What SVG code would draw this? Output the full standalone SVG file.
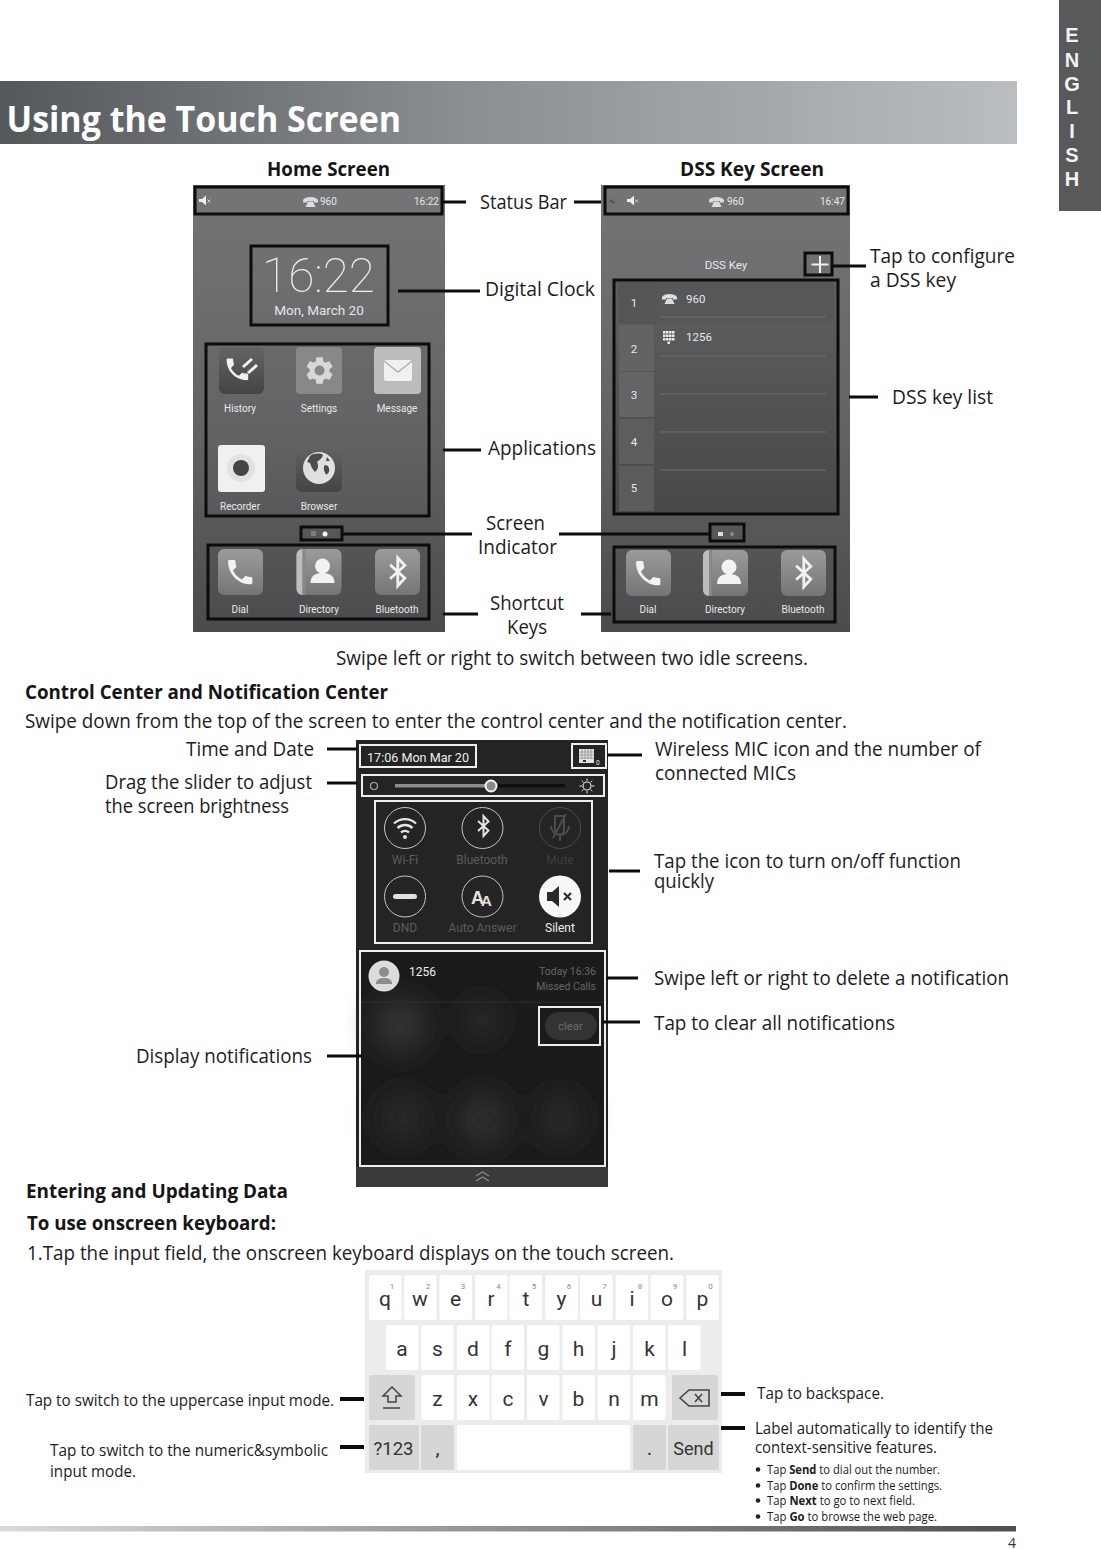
<svg xmlns="http://www.w3.org/2000/svg" xmlns:xlink="http://www.w3.org/1999/xlink" width="1101" height="1549" viewBox="0 0 1101 1549">
<style>
text{font-family:"Open Sans","Noto Sans","Liberation Sans",sans-serif;fill:#1c1c1c}
.l{font-size:19.5px}
.b{font-size:19.5px;font-weight:700;fill:#151515}
.s{font-size:16.5px}
.m{font-size:12px}
.u{font-family:Roboto,"Liberation Sans",sans-serif;fill:#e8e8e8;font-size:10px}
.c{text-anchor:middle}
.tab{font-family:"Liberation Sans",Arial,sans-serif;font-weight:700;font-size:20px;fill:#f2f2f2;text-anchor:middle}
.box{fill:none;stroke:#0c0c0c;stroke-width:3}
.wb{fill:none;stroke:#eeeeee;stroke-width:2}
.con{stroke:#0c0c0c;stroke-width:3;fill:none}
.k{fill:#fff}
.d{fill:#d6d6d6}
.kt{font-family:Roboto,"Liberation Sans",sans-serif;font-size:21px;fill:#333;text-anchor:middle}
.kn{font-family:Roboto,"Liberation Sans",sans-serif;font-size:8px;fill:#888;text-anchor:middle}
.q{fill:none;stroke:#c4c4c4;stroke-width:1}
.qt{font-family:Roboto,"Liberation Sans",sans-serif;font-size:12px;fill:#5c5c5c;text-anchor:middle}
</style>
<defs>
<linearGradient id="ban"><stop offset="0" stop-color="#55585a"/><stop offset=".45" stop-color="#8b8e90"/><stop offset="1" stop-color="#babec0"/></linearGradient>
<linearGradient id="foot"><stop offset="0" stop-color="#d8dadb"/><stop offset=".3" stop-color="#a9acae"/><stop offset="1" stop-color="#4e4f52"/></linearGradient>
<linearGradient id="ph" x2="0" y2="1"><stop offset="0" stop-color="#747576"/><stop offset=".55" stop-color="#626365"/><stop offset="1" stop-color="#4a4b4d"/></linearGradient>
<linearGradient id="ic" x2="0" y2="1"><stop offset="0" stop-color="#9a9b9c"/><stop offset="1" stop-color="#747576"/></linearGradient>
<linearGradient id="icd" x2="0" y2="1"><stop offset="0" stop-color="#636465"/><stop offset="1" stop-color="#434445"/></linearGradient>
<linearGradient id="lst" x2="0" y2="1"><stop offset="0" stop-color="#5e5f60"/><stop offset="1" stop-color="#47484a"/></linearGradient>
<filter id="bl" x="-100%" y="-100%" width="300%" height="300%"><feGaussianBlur stdDeviation="14"/></filter>
<path id="hs" d="M6.62 10.79c1.44 2.83 3.76 5.14 6.59 6.59l2.2-2.2c.27-.27.67-.36 1.02-.24 1.12.37 2.33.57 3.57.57.55 0 1 .45 1 1V20c0 .55-.45 1-1 1-9.39 0-17-7.61-17-17 0-.55.45-1 1-1h3.5c.55 0 1 .45 1 1 0 1.25.2 2.45.57 3.57.11.35.03.74-.25 1.02l-2.2 2.2z"/>
<path id="gear" fill-rule="evenodd" d="M19.14 12.94c.04-.3.06-.61.06-.94 0-.32-.02-.64-.07-.94l2.03-1.58c.18-.14.23-.41.12-.61l-1.92-3.32c-.12-.22-.37-.29-.59-.22l-2.39.96c-.5-.38-1.03-.7-1.62-.94l-.36-2.54c-.04-.24-.24-.41-.48-.41h-3.84c-.24 0-.43.17-.47.41l-.36 2.54c-.59.24-1.13.57-1.62.94l-2.39-.96c-.22-.08-.47 0-.59.22L2.74 8.87c-.12.21-.08.47.12.61l2.03 1.58c-.05.3-.09.63-.09.94s.02.64.07.94l-2.03 1.58c-.18.14-.23.41-.12.61l1.92 3.32c.12.22.37.29.59.22l2.39-.96c.5.38 1.03.7 1.62.94l.36 2.54c.05.24.24.41.48.41h3.84c.24 0 .44-.17.47-.41l.36-2.54c.59-.24 1.13-.56 1.62-.94l2.39.96c.22.08.47 0 .59-.22l1.92-3.32c.12-.22.07-.47-.12-.61l-2.01-1.58zM12 15.6c-1.98 0-3.6-1.62-3.6-3.6s1.62-3.6 3.6-3.6 3.6 1.62 3.6 3.6-1.62 3.6-3.6 3.6z"/>
<path id="bt" fill="none" stroke-width="2" d="M6.5 7 17 16.5 12 22V2l5 5.5L6.5 17"/>
<g id="dial"><rect width="45" height="46" rx="6" fill="url(#ic)"/><use xlink:href="#hs" transform="translate(6 7) scale(1.35)" fill="#f2f2f2"/></g>
<g id="dir"><rect width="45" height="46" rx="6" fill="url(#ic)"/><path d="M6 0V46A6 6 0 0 1 0 40V6A6 6 0 0 1 6 0Z" fill="#bdbdbd"/><rect x="6" width="3" height="46" fill="#888"/><circle cx="26" cy="17" r="7.5" fill="#f2f2f2"/><path d="M14 34c0-8 6-10 12-10s12 2 12 10z" fill="#f2f2f2"/></g>
<g id="blu"><rect width="45" height="46" rx="6" fill="url(#ic)"/><use xlink:href="#bt" transform="translate(6 6) scale(1.4)" stroke="#f2f2f2"/></g>
<g id="tel"><path d="M0 4C2 0 13 0 15 4V6.500H11V5H4V6.500H0Z" fill="#dcdcdc"/><path d="M2.500 11 5 5.500H10L12.500 11Z" fill="#dcdcdc"/></g>
</defs>

<g id="language-tab"><rect x="1059" width="42" height="211" fill="#58595b"/>
<text class="tab" x="1072" y="42">E</text><text class="tab" x="1072" y="66.500">N</text><text class="tab" x="1072" y="90.500">G</text><text class="tab" x="1072" y="114">L</text><text class="tab" x="1072" y="138">I</text><text class="tab" x="1072" y="162">S</text><text class="tab" x="1072" y="186">H</text></g>

<g id="title-banner"><rect y="81" width="1017" height="63" fill="url(#ban)"/>
<text x="6.500" y="132" style="font-size:35px;font-weight:700;fill:#fff" textLength="394.500" lengthAdjust="spacingAndGlyphs">Using the Touch Screen</text></g>

<text class="b" x="267" y="175.500" textLength="123" lengthAdjust="spacingAndGlyphs">Home Screen</text>
<text class="b" x="680" y="175.500" textLength="144" lengthAdjust="spacingAndGlyphs">DSS Key Screen</text>

<g id="home-screen">
<rect x="193" y="185" width="252" height="447" fill="url(#ph)"/>
<g id="home-status"><rect class="box" x="195" y="187" width="247" height="27"/>
<path d="M199 199h3l4-3.500v10l-4-3.500h-3z" fill="#eee"/><path d="M207.500 199.500l3 3m0-3l-3 3" stroke="#ddd" stroke-width=".8"/>
<use xlink:href="#tel" transform="translate(303 196)"/><text class="u" x="320" y="205">960</text><text class="u" x="414" y="205">16:22</text></g>
<g id="home-clock"><rect class="box" x="251" y="246" width="137" height="79"/>
<text x="262" y="292" style="font-family:Roboto,sans-serif;font-weight:100;font-size:49px;fill:#eee" textLength="113" lengthAdjust="spacingAndGlyphs">16:22</text>
<text class="c" x="319" y="315" style="font-family:Roboto,sans-serif;font-size:13.500px;fill:#e6e6e6">Mon, March 20</text></g>
<g id="home-apps"><rect class="box" x="206" y="344" width="223" height="172"/>
<rect x="219" y="347" width="45" height="47" rx="6" fill="url(#icd)"/><use xlink:href="#hs" transform="translate(223 355) scale(1.2)" fill="#f2f2f2"/><path d="M243 367l9-8M248 373l9-8" stroke="#f2f2f2" stroke-width="3" fill="none"/>
<rect x="296" y="347" width="46" height="47" rx="4" fill="#878889"/><use xlink:href="#gear" transform="translate(303 354) scale(1.38)" fill="#d8d8d8"/>
<rect x="374" y="347" width="47" height="47" rx="4" fill="#bcbcbc"/><rect x="384" y="360" width="28" height="21" rx="2" fill="#f0f0f0"/><path d="M384 361l14 11 14-11" fill="none" stroke="#b0b0b0" stroke-width="1.500"/>
<text class="u c" x="240" y="412">History</text><text class="u c" x="319" y="412">Settings</text><text class="u c" x="397" y="412">Message</text>
<rect x="218" y="445" width="47" height="47" rx="3" fill="#f0f0f0"/><circle cx="241" cy="468" r="14" fill="#e2e2e2"/><circle cx="241" cy="468" r="8" fill="#444"/>
<rect x="296" y="445" width="46" height="47" rx="6" fill="url(#icd)"/><circle cx="319" cy="468" r="16" fill="#e0e0e0"/><path d="M310 456c4-3 10-3 13-1-1 4-4 5-6 7 2 3 1 8-2 10-3-3-4-6-5-9l-3-1zM325 465c3 0 5 3 4 7-2 3-3 3-4 1-1-3-2-6 0-8zM327 457l3 4-4 0z" fill="#4b4c4d"/>
<text class="u c" x="240" y="510">Recorder</text><text class="u c" x="319" y="510">Browser</text></g>
<g id="home-indicator"><rect class="box" x="301" y="527" width="41" height="13"/><rect x="311" y="531" width="5" height="5" fill="#7c7c7c"/><circle cx="325" cy="534" r="2.500" fill="#f4f4f4"/></g>
<g id="home-shortcuts"><rect class="box" x="208" y="545" width="221" height="74"/>
<use xlink:href="#dial" transform="translate(218 549)"/><use xlink:href="#dir" transform="translate(296.500 549)"/><use xlink:href="#blu" transform="translate(375 549)"/>
<text class="u c" x="240" y="613">Dial</text><text class="u c" x="319" y="613">Directory</text><text class="u c" x="397" y="613">Bluetooth</text></g>
</g>

<g id="dss-screen">
<rect x="601" y="185" width="249" height="447" fill="url(#ph)"/>
<g id="dss-status"><rect class="box" x="605" y="187" width="243" height="27"/>
<path d="M610 199l5 3-1 2-5-3z" fill="#555"/><path d="M627 199h3l4-3.500v10l-4-3.500h-3z" fill="#eee"/><path d="M635 199.500l3 3m0-3l-3 3" stroke="#ddd" stroke-width=".8"/>
<use xlink:href="#tel" transform="translate(709 196)"/><text class="u" x="727" y="205">960</text><text class="u" x="820" y="205">16:47</text></g>
<text class="u c" x="726" y="269" style="font-size:11.500px">DSS Key</text>
<g id="dss-add"><rect class="box" x="805" y="253" width="27" height="22"/><path d="M820 256v17M811.500 264.500h17" stroke="#efefef" stroke-width="2" fill="none"/></g>
<g id="dss-list"><rect x="615" y="281" width="222" height="232" rx="3" fill="url(#lst)"/>
<path d="M618 282H656V324H622A4 4 0 0 1 618 320Z" fill="#545556"/><rect x="656" y="282" width="178" height="42" fill="#565758"/>
<rect x="619" y="325" width="35" height="46" fill="#626364"/><rect x="619" y="372" width="35" height="45" fill="#636465"/><rect x="619" y="419" width="35" height="45" fill="#5c5d5e"/><rect x="619" y="466" width="35" height="45" fill="#5a5b5c"/>
<path stroke="#6d6e6f" stroke-width="1" d="M660 317H826M660 356H826M660 394H826M660 432H826M660 470H826"/>
<rect class="box" x="614" y="280" width="224" height="234"/>
<text class="u c" style="font-size:11.500px" x="634" y="307">1</text><text class="u c" style="font-size:11.500px" x="634" y="353">2</text><text class="u c" style="font-size:11.500px" x="634" y="399">3</text><text class="u c" style="font-size:11.500px" x="634" y="446">4</text><text class="u c" style="font-size:11.500px" x="634" y="492">5</text>
<use xlink:href="#tel" transform="translate(662 293)"/><text class="u" x="686" y="303" style="font-size:11.500px">960</text>
<path fill="#ededed" d="M663 331h2.500v2.500h-2.500zM666 331h2.500v2.500h-2.500zM669 331h2.500v2.500h-2.500zM672 331h2.500v2.500h-2.500zM663 334.500h2.500v2.500h-2.500zM666 334.500h2.500v2.500h-2.500zM669 334.500h2.500v2.500h-2.500zM672 334.500h2.500v2.500h-2.500zM663 338h2.500v2.500h-2.500zM666 338h2.500v2.500h-2.500zM669 338h2.500v2.500h-2.500zM672 338h2.500v2.500h-2.500zM667.500 341.500h2.500v2.500h-2.500z"/>
<text class="u" x="686" y="341" style="font-size:11.500px">1256</text></g>
<g id="dss-indicator"><rect class="box" x="710" y="524" width="34" height="17"/><rect x="718" y="532" width="5" height="4" fill="#ddd"/><circle cx="732" cy="534" r="2" fill="#8a8a8a"/></g>
<g id="dss-shortcuts"><rect class="box" x="614" y="547" width="221" height="75"/>
<use xlink:href="#dial" transform="translate(626 550)"/><use xlink:href="#dir" transform="translate(703 550)"/><use xlink:href="#blu" transform="translate(781 550)"/>
<text class="u c" x="648" y="613">Dial</text><text class="u c" x="725" y="613">Directory</text><text class="u c" x="803" y="613">Bluetooth</text></g>
</g>

<g id="control-center">
<rect x="356" y="740" width="252" height="447" fill="#242424"/>
<rect x="360" y="951" width="245" height="215" fill="#1b1b1b"/>
<g filter="url(#bl)"><ellipse cx="400" cy="1025" rx="26" ry="26" fill="#353535"/><ellipse cx="482" cy="1020" rx="18" ry="20" fill="#2a2a2a"/><ellipse cx="403" cy="1118" rx="24" ry="24" fill="#2c2c2c"/><ellipse cx="482" cy="1120" rx="26" ry="28" fill="#2e2e2e"/><ellipse cx="560" cy="1118" rx="22" ry="24" fill="#2a2a2a"/></g>
<rect x="356" y="1167" width="252" height="20" fill="#3a3a3a"/><path d="M476 1176l6.500-4 6.500 4M476 1181l6.500-4 6.500 4" fill="none" stroke="#8a8a8a" stroke-width="1.300"/>
<g id="cc-time"><rect class="wb" x="360" y="745" width="116" height="22"/><text x="367" y="762" style="font-family:Roboto,sans-serif;font-size:13.500px;fill:#eee" textLength="102" lengthAdjust="spacingAndGlyphs">17:06 Mon Mar 20</text></g>
<g id="cc-mic"><rect class="wb" x="572" y="744" width="34" height="24"/><rect x="579" y="749" width="15" height="14" fill="#e4e4e4"/><path d="M582 749v10M585 749v10M588 749v10M591 749v10M579 752h15M579 755h15M579 758h15" stroke="#777" stroke-width=".6"/><rect x="583" y="760" width="3" height="2" fill="#333"/><text class="u" x="596" y="765" style="font-size:6.500px">0</text></g>
<g id="cc-slider"><rect class="wb" x="362" y="775" width="242" height="21"/><circle cx="374" cy="786" r="3.500" fill="none" stroke="#aaa" stroke-width="1.200"/>
<rect x="395" y="784" width="95" height="3.500" fill="#8c8c8c"/><rect x="490" y="784" width="75" height="3.500" fill="#0e0e0e"/><circle cx="491" cy="786" r="5.500" fill="#8a8a8a" stroke="#f2f2f2" stroke-width="2"/>
<circle cx="587" cy="786" r="4" fill="none" stroke="#e0e0e0" stroke-width="1.200"/><path d="M587 778.500v2.500M587 791v2.500M579.500 786h2.500M592 786h2.500M581.700 780.700l1.700 1.700M590.600 789.600l1.700 1.700M581.700 791.300l1.700-1.700M590.600 782.400l1.700-1.700" stroke="#e0e0e0" stroke-width="1"/></g>
<g id="cc-quick"><rect class="wb" x="375" y="801" width="217" height="142"/>
<circle class="q" cx="405" cy="828" r="20.500"/><path d="M394 823.500a16 16 0 0 1 22 0M397.500 828a11 11 0 0 1 15 0M401 832.500a6 6 0 0 1 8 0" fill="none" stroke="#e4e4e4" stroke-width="2.400"/><circle cx="405" cy="837" r="2" fill="#e4e4e4"/>
<circle class="q" cx="482.500" cy="828" r="20.500"/><use xlink:href="#bt" transform="translate(471.500 814) scale(1)" stroke="#e4e4e4"/>
<circle cx="560" cy="828" r="20.500" fill="none" stroke="#4c4c4c"/><path d="M555 816h9v14a4.500 4.500 0 0 1-9 0zM553 838l13-24M551 826a9 9 0 0 0 18 0M560 835v6" fill="none" stroke="#4c4c4c" stroke-width="2"/>
<text class="qt" x="405" y="864">Wi-Fi</text><text class="qt" x="482" y="864">Bluetooth</text><text class="qt" x="560" y="864" style="fill:#3e3e3e">Mute</text>
<circle class="q" cx="405" cy="896.500" r="20.500"/><rect x="393" y="894" width="24" height="5" rx="2.500" fill="#e0e0e0"/>
<circle class="q" cx="482.500" cy="896.500" r="20.500"/><text x="471" y="904" style="font-family:'Liberation Sans',sans-serif;font-weight:700;font-size:18px;fill:#e4e4e4">A</text><text x="481" y="906" style="font-family:'Liberation Sans',sans-serif;font-weight:700;font-size:15px;fill:#e4e4e4">A</text>
<circle cx="560" cy="896.500" r="21" fill="#f6f6f6"/><path d="M547 892h5l7-6v21l-7-6h-5z" fill="#2a2a2a"/><path d="M564 893l7 7m0-7l-7 7" stroke="#2a2a2a" stroke-width="2"/>
<text class="qt" x="405" y="932">DND</text><text class="qt" x="482.500" y="932">Auto Answer</text><text class="qt" x="560" y="932" style="fill:#eee">Silent</text></g>
<g id="cc-notifications"><rect class="wb" x="360" y="951" width="245" height="215"/>
<path d="M361 1002H604" stroke="#2e2e2e"/>
<circle cx="384" cy="976" r="15.500" fill="#dcdcdc"/><circle cx="384" cy="972" r="5" fill="#8c8c8c"/><path d="M376 984c0-5 4-6 8-6s8 1 8 6z" fill="#8c8c8c"/>
<text x="409" y="976" style="font-family:Roboto,sans-serif;font-size:12px;fill:#eee">1256</text>
<text x="596" y="975" text-anchor="end" style="font-family:Roboto,sans-serif;font-size:10.500px;fill:#666">Today 16:36</text><text x="596" y="990" text-anchor="end" style="font-family:Roboto,sans-serif;font-size:10.500px;fill:#666">Missed Calls</text></g>
<g id="cc-clear"><rect class="wb" x="539" y="1007" width="61" height="38"/><rect x="545" y="1012" width="52" height="28" rx="14" fill="#333"/><text x="570.500" y="1030" text-anchor="middle" style="font-family:Roboto,sans-serif;font-size:11.500px;fill:#6a6a6a">clear</text></g>
</g>

<g id="keyboard">
<rect x="365" y="1270" width="357" height="203" fill="#ececec"/>
<g id="keys">
<rect class="k" x="369" y="1275" width="32.500" height="45" rx="2"/><rect class="k" x="404" y="1275" width="32.500" height="45" rx="2"/><rect class="k" x="439.500" y="1275" width="32.500" height="45" rx="2"/><rect class="k" x="475" y="1275" width="32.500" height="45" rx="2"/><rect class="k" x="509.700" y="1275" width="32.500" height="45" rx="2"/><rect class="k" x="545.300" y="1275" width="32.500" height="45" rx="2"/><rect class="k" x="580" y="1275" width="32.500" height="45" rx="2"/><rect class="k" x="615.700" y="1275" width="32.500" height="45" rx="2"/><rect class="k" x="650.700" y="1275" width="32.500" height="45" rx="2"/><rect class="k" x="686.300" y="1275" width="32.500" height="45" rx="2"/>
<rect class="k" x="386" y="1325" width="32.500" height="45" rx="2"/><rect class="k" x="421" y="1325" width="32.500" height="45" rx="2"/><rect class="k" x="457" y="1325" width="32.500" height="45" rx="2"/><rect class="k" x="491.700" y="1325" width="32.500" height="45" rx="2"/><rect class="k" x="527" y="1325" width="32.500" height="45" rx="2"/><rect class="k" x="562.500" y="1325" width="32.500" height="45" rx="2"/><rect class="k" x="597.700" y="1325" width="32.500" height="45" rx="2"/><rect class="k" x="633" y="1325" width="32.500" height="45" rx="2"/><rect class="k" x="668" y="1325" width="32.500" height="45" rx="2"/>
<rect class="d" x="369" y="1375" width="46" height="45" rx="2"/><rect class="k" x="421.300" y="1375" width="32.500" height="45" rx="2"/><rect class="k" x="457" y="1375" width="32.500" height="45" rx="2"/><rect class="k" x="491.700" y="1375" width="32.500" height="45" rx="2"/><rect class="k" x="527" y="1375" width="32.500" height="45" rx="2"/><rect class="k" x="562.500" y="1375" width="32.500" height="45" rx="2"/><rect class="k" x="597.700" y="1375" width="32.500" height="45" rx="2"/><rect class="k" x="633" y="1375" width="32.500" height="45" rx="2"/><rect class="d" x="672" y="1375" width="46" height="45" rx="2"/>
<rect class="d" x="369" y="1425" width="50" height="45" rx="2"/><rect class="d" x="421" y="1425" width="33" height="45" rx="2"/><rect class="k" x="457" y="1425" width="173" height="45" rx="2"/><rect class="d" x="633" y="1425" width="33" height="45" rx="2"/><rect class="d" x="668" y="1425" width="51" height="45" rx="2"/>
</g>
<g id="key-labels">
<text class="kt" x="385" y="1306">q</text><text class="kt" x="420" y="1306">w</text><text class="kt" x="455.500" y="1306">e</text><text class="kt" x="491" y="1306">r</text><text class="kt" x="526" y="1306">t</text><text class="kt" x="561.500" y="1306">y</text><text class="kt" x="596.500" y="1306">u</text><text class="kt" x="632" y="1306">i</text><text class="kt" x="667" y="1306">o</text><text class="kt" x="702.500" y="1306">p</text>
<text class="kn" x="392" y="1289">1</text><text class="kn" x="428" y="1289">2</text><text class="kn" x="463" y="1289">3</text><text class="kn" x="498.500" y="1289">4</text><text class="kn" x="534" y="1289">5</text><text class="kn" x="569" y="1289">6</text><text class="kn" x="604.500" y="1289">7</text><text class="kn" x="640" y="1289">8</text><text class="kn" x="675" y="1289">9</text><text class="kn" x="710.500" y="1289">0</text>
<text class="kt" x="402" y="1356">a</text><text class="kt" x="437.500" y="1356">s</text><text class="kt" x="473" y="1356">d</text><text class="kt" x="508" y="1356">f</text><text class="kt" x="543.500" y="1356">g</text><text class="kt" x="578.500" y="1356">h</text><text class="kt" x="614" y="1356">j</text><text class="kt" x="649.500" y="1356">k</text><text class="kt" x="684.500" y="1356">l</text>
<text class="kt" x="437.500" y="1406">z</text><text class="kt" x="473" y="1406">x</text><text class="kt" x="508" y="1406">c</text><text class="kt" x="543.500" y="1406">v</text><text class="kt" x="578.500" y="1406">b</text><text class="kt" x="614" y="1406">n</text><text class="kt" x="649.500" y="1406">m</text>
<path d="M392 1387l-9 9h5v6h8v-6h5zM383 1408h17" fill="none" stroke="#444" stroke-width="1.500"/>
<path d="M680 1398l9-8h20v16h-20zM695 1394l7 8m0-8l-7 8" fill="none" stroke="#444" stroke-width="1.600"/>
<text class="kt" x="393.500" y="1455" style="font-size:18.500px">?123</text><text class="kt" x="437.500" y="1455">,</text><text class="kt" x="649.500" y="1455">.</text><text class="kt" x="693.500" y="1455" style="font-size:18px">Send</text>
</g>
</g>

<g id="connectors">
<path class="con" d="M443 202H466M574 202H601M398 291H480M443 450H481M343 534H472M559 534H709M443 614H478M581 614H611M833 266H866M849 397H878"/>
<path class="con" d="M327 749H357M327 783H357M327 1056H362M607 755H642M609 871H640M606 978H638M602 1022H640"/>
<path class="con" style="stroke-width:4" d="M340 1399H364M340 1447H364M721 1394H745M721 1428H745"/>
</g>

<g id="labels" transform="translate(0 .5)">
<text class="l" x="480" y="208" textLength="87" lengthAdjust="spacingAndGlyphs">Status Bar</text>
<text class="l" x="485" y="295" textLength="110" lengthAdjust="spacingAndGlyphs">Digital Clock</text>
<text class="l" x="488" y="454" textLength="108" lengthAdjust="spacingAndGlyphs">Applications</text>
<text class="l" x="486" y="529" textLength="59" lengthAdjust="spacingAndGlyphs">Screen</text>
<text class="l" x="478" y="553" textLength="79" lengthAdjust="spacingAndGlyphs">Indicator</text>
<text class="l" x="490" y="609" textLength="74" lengthAdjust="spacingAndGlyphs">Shortcut</text>
<text class="l" x="507" y="633" textLength="40" lengthAdjust="spacingAndGlyphs">Keys</text>
<text class="l" x="870" y="262" textLength="145" lengthAdjust="spacingAndGlyphs">Tap to configure</text>
<text class="l" x="870" y="286" textLength="86" lengthAdjust="spacingAndGlyphs">a DSS key</text>
<text class="l" x="892" y="403" textLength="101" lengthAdjust="spacingAndGlyphs">DSS key list</text>
<text class="l" x="336" y="664" textLength="472" lengthAdjust="spacingAndGlyphs">Swipe left or right to switch between two idle screens.</text>
<text class="b" x="25" y="698" textLength="363" lengthAdjust="spacingAndGlyphs">Control Center and Notification Center</text>
<text class="l" x="25" y="727" textLength="822" lengthAdjust="spacingAndGlyphs">Swipe down from the top of the screen to enter the control center and the notification center.</text>
<text class="l" x="186" y="755" textLength="128" lengthAdjust="spacingAndGlyphs">Time and Date</text>
<text class="l" x="105" y="788" textLength="207" lengthAdjust="spacingAndGlyphs">Drag the slider to adjust</text>
<text class="l" x="105" y="812" textLength="184" lengthAdjust="spacingAndGlyphs">the screen brightness</text>
<text class="l" x="136" y="1062" textLength="176" lengthAdjust="spacingAndGlyphs">Display notifications</text>
<text class="l" x="655" y="755" textLength="326" lengthAdjust="spacingAndGlyphs">Wireless MIC icon and the number of</text>
<text class="l" x="655" y="779" textLength="141" lengthAdjust="spacingAndGlyphs">connected MICs</text>
<text class="l" x="654" y="867" textLength="307" lengthAdjust="spacingAndGlyphs">Tap the icon to turn on/off function</text>
<text class="l" x="654" y="887" textLength="60" lengthAdjust="spacingAndGlyphs">quickly</text>
<text class="l" x="654" y="984" textLength="355" lengthAdjust="spacingAndGlyphs">Swipe left or right to delete a notification</text>
<text class="l" x="654" y="1029" textLength="241" lengthAdjust="spacingAndGlyphs">Tap to clear all notifications</text>
<text class="b" x="26" y="1197" textLength="262" lengthAdjust="spacingAndGlyphs">Entering and Updating Data</text>
<text class="b" x="27" y="1229" textLength="249" lengthAdjust="spacingAndGlyphs">To use onscreen keyboard:</text>
<text class="l" x="27" y="1259" textLength="647" lengthAdjust="spacingAndGlyphs">1.Tap the input field, the onscreen keyboard displays on the touch screen.</text>
<text class="s" x="26" y="1405" textLength="308" lengthAdjust="spacingAndGlyphs">Tap to switch to the uppercase input mode.</text>
<text class="s" x="50" y="1455" textLength="278" lengthAdjust="spacingAndGlyphs">Tap to switch to the numeric&amp;symbolic</text>
<text class="s" x="50" y="1476" textLength="86" lengthAdjust="spacingAndGlyphs">input mode.</text>
<text class="s" x="757" y="1398" textLength="127" lengthAdjust="spacingAndGlyphs">Tap to backspace.</text>
<text class="s" x="755" y="1433" textLength="238" lengthAdjust="spacingAndGlyphs">Label automatically to identify the</text>
<text class="s" x="755" y="1452" textLength="182" lengthAdjust="spacingAndGlyphs">context-sensitive features.</text>
<g fill="#222"><circle cx="758" cy="1469" r="2.300"/><circle cx="758" cy="1485" r="2.300"/><circle cx="758" cy="1500" r="2.300"/><circle cx="758" cy="1516" r="2.300"/></g>
<text class="m" x="767" y="1473" textLength="173" lengthAdjust="spacingAndGlyphs">Tap <tspan font-weight="700">Send</tspan> to dial out the number.</text>
<text class="m" x="767" y="1489" textLength="175" lengthAdjust="spacingAndGlyphs">Tap <tspan font-weight="700">Done</tspan> to confirm the settings.</text>
<text class="m" x="767" y="1504" textLength="148" lengthAdjust="spacingAndGlyphs">Tap <tspan font-weight="700">Next</tspan> to go to next field.</text>
<text class="m" x="767" y="1520" textLength="170" lengthAdjust="spacingAndGlyphs">Tap <tspan font-weight="700">Go</tspan> to browse the web page.</text>
</g>

<g id="footer"><rect y="1526" width="1016" height="5.500" fill="url(#foot)"/>
<text x="1008" y="1548" style="font-size:14px;fill:#333">4</text></g>
</svg>
